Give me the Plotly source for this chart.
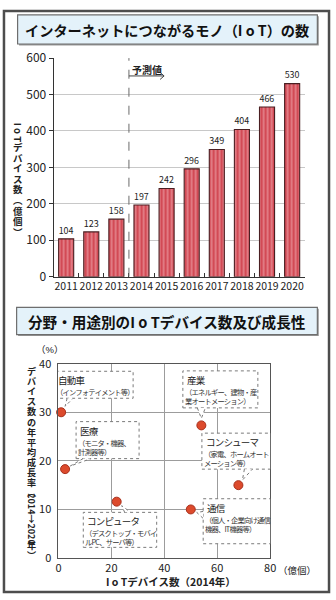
import plotly.graph_objects as go

# ---- data -------------------------------------------------------------
years = ["2011", "2012", "2013", "2014", "2015", "2016", "2017", "2018", "2019", "2020"]
devices = [104, 123, 158, 197, 242, 296, 349, 404, 466, 530]   # 億個
forecast_label = "予測値"

sectors = ["自動車", "医療", "産業", "コンシューマ", "コンピュータ", "通信"]
sector_notes = [
    "（インフォテイメント等）",
    "（モニタ・機器、<br>計測器等）",
    "（エネルギー、建物・産<br>業オートメーション）",
    "（家電、ホームオート<br>メーション等）",
    "（デスクトップ・モバイ<br>ルPC、サーバ等）",
    "（個人・企業向け通信<br>機器、IT機器等）",
]
sector_devices_2014 = [1, 2.5, 54, 68, 22, 50]      # 億個
sector_growth = [30, 18.3, 27.3, 15, 11.6, 10]      # %

# ---- page geometry ----------------------------------------------------
W, H = 336, 600
FONT = "Noto Sans CJK JP, Noto Sans, sans-serif"
# tight-metric primary family for stacked text (CJK glyphs fall back to Noto)
COLUMN_FONT = "Liberation Serif, Noto Sans CJK JP, sans-serif"


def px(x):
    return x / W


def py(y):
    return 1 - y / H


# callout geometry (pixels relative to each dot, screen y downward)
# box = (left, top, right, bottom), tail = (base1, tip, base2)
callouts = [
    dict(box=(-7, -41, 72, -14), tail=((6, -14), (4, -6), (12, -14))),
    dict(box=(11, -47.5, 74, -10.5), tail=((18, -10.5), (5, -3), (26, -10.5))),
    dict(box=(-18.5, -54.5, 56.5, -17.5), tail=((-4, -17.5), (0, -7), (4, -17.5))),
    dict(box=(-36.5, -52, 32.5, -16), tail=((6, -16), (4, -5), (14, -16))),
    dict(box=(-33.4, 10.7, 40, 45.7), tail=((8, 10.7), (5, 4), (14, 10.7))),
    dict(box=(12.4, -10.7, 81.4, 34.3), tail=((12.4, 2), (6, 3), (12.4, 9))),
]

fig = go.Figure()

# ---- chart 1: bar chart -------------------------------------------------
fig.add_trace(go.Bar(
    x=years, y=devices, xaxis="x", yaxis="y",
    width=0.6,
    marker=dict(
        color="#d24a55",
        line=dict(color="#4a1f22", width=1.1),
        pattern=dict(shape="|", fgcolor="#f4b4b9", bgcolor="#d24a55",
                     size=4, solidity=0.45),
    ),
    text=[str(v) for v in devices], textposition="outside",
    textfont=dict(size=12, color="#222", family=FONT),
    cliponaxis=False, showlegend=False, hoverinfo="skip",
))

# ---- chart 2: scatter ---------------------------------------------------
fig.add_trace(go.Scatter(
    x=sector_devices_2014, y=sector_growth, xaxis="x2", yaxis="y2",
    mode="markers",
    marker=dict(size=9, color="#dc4a2c", line=dict(color="#a8301c", width=1)),
    showlegend=False, hoverinfo="skip", cliponaxis=False,
))

shapes = []
annotations = []

# outer frame
shapes.append(dict(type="rect", xref="paper", yref="paper",
                   x0=px(1), x1=px(W - 1), y0=py(H - 1), y1=py(1),
                   line=dict(color="#4d4d4d", width=2.5), layer="above"))

# title boxes
for (x0, y0, x1, y1), title, size in [
    ((15, 5, 323, 35), "インターネットにつながるモノ（I o T）の数", 14.2),
    ((14, 306, 323, 334), "分野・用途別のI o Tデバイス数及び成長性", 14.6),
]:
    shapes.append(dict(type="rect", xref="paper", yref="paper",
                       x0=px(x0 + 1.5), x1=px(x1 + 1.5), y0=py(y1 + 1.5), y1=py(y0 + 1.5),
                       line=dict(width=0), fillcolor="#9a9a9a", layer="below"))
    shapes.append(dict(type="rect", xref="paper", yref="paper",
                       x0=px(x0), x1=px(x1), y0=py(y1), y1=py(y0),
                       line=dict(color="#6e6e6e", width=1.2), fillcolor="#e4f2fa",
                       layer="below"))
    annotations.append(dict(text="<b>%s</b>" % title, xref="paper", yref="paper",
                            x=px((x0 + x1) / 2), y=py((y0 + y1) / 2 + 0.5),
                            showarrow=False, xanchor="center", yanchor="middle",
                            font=dict(size=size, color="#111", family=FONT)))

# forecast divider between 2013 and 2014
split = years.index("2014") - 0.5
shapes.append(dict(type="line", xref="x", yref="y", x0=split, x1=split, y0=0, y1=600,
                   line=dict(color="#6a6a6a", width=1, dash="dash"), layer="above"))
shapes.append(dict(type="line", xref="x", yref="y", x0=split, x1=split + 1.4, y0=551, y1=551,
                   line=dict(color="#444", width=1), layer="above"))
shapes.append(dict(type="path", xref="x", yref="y", xsizemode="pixel", ysizemode="pixel",
                   xanchor=split + 1.4, yanchor=551,
                   path="M -4,3.5 L 0,0 L -4,-3.5",
                   line=dict(color="#444", width=1), layer="above"))
annotations.append(dict(text="<b>%s</b>" % forecast_label, xref="x", yref="y",
                        x=split, y=570, xanchor="left", yanchor="middle", xshift=1,
                        showarrow=False, font=dict(size=10, color="#222", family=FONT)))

# callouts for the scatter points
for name, note, xv, yv, c in zip(sectors, sector_notes, sector_devices_2014,
                                 sector_growth, callouts):
    l, t, r, b = c["box"]
    shapes.append(dict(type="rect", xref="x2", yref="y2", xsizemode="pixel",
                       ysizemode="pixel", xanchor=xv, yanchor=yv,
                       x0=l, x1=r, y0=-b, y1=-t,
                       line=dict(color="#7a7a7a", width=1, dash="dot"),
                       fillcolor="white", layer="above"))
    (bx1, by1), (tx, ty), (bx2, by2) = c["tail"]
    shapes.append(dict(type="path", xref="x2", yref="y2", xsizemode="pixel",
                       ysizemode="pixel", xanchor=xv, yanchor=yv,
                       path="M %g,%g L %g,%g L %g,%g" % (bx1, -by1, tx, -ty, bx2, -by2),
                       line=dict(color="#7a7a7a", width=1, dash="dot"),
                       fillcolor="white", layer="above"))
    annotations.append(dict(
        text="<span style='letter-spacing:-0.8px'>%s</span>" % name,
        xref="x2", yref="y2", x=xv, y=yv,
        xanchor="left", yanchor="top", xshift=l + 3, yshift=-(t + 1),
        showarrow=False, align="left", borderpad=0,
        font=dict(size=9.5, color="#222", family=FONT)))
    note_html = "<br>".join("<span style='letter-spacing:-0.8px'>%s</span>" % ln
                            for ln in note.split("<br>"))
    annotations.append(dict(
        text=note_html, xref="x2", yref="y2", x=xv, y=yv,
        xanchor="left", yanchor="top", xshift=l + 1, yshift=-(t + 15),
        showarrow=False, align="left", borderpad=0,
        font=dict(size=7.3, color="#333", family=FONT)))


def upright_stack(chars, x_px, y_top, step, size):
    """Upright CJK column: one annotation, line pitch set by the outer font size."""
    body = "<br>".join("<span style='font-size:%gpx'><b>%s</b></span>" % (size, ch)
                       for ch in chars)
    annotations.append(dict(text=body, xref="paper", yref="paper",
                            x=px(x_px), y=py(y_top + len(chars) * step / 2),
                            xanchor="center", yanchor="middle", showarrow=False,
                            borderpad=0, align="center",
                            font=dict(size=step / 1.3, color="#222", family=COLUMN_FONT)))
    return y_top + len(chars) * step


def rotated_run(text, x_px, y_top, length, size):
    annotations.append(dict(text="<b>%s</b>" % text, xref="paper", yref="paper",
                            x=px(x_px), y=py(y_top + length / 2), textangle=90,
                            xanchor="center", yanchor="middle", showarrow=False,
                            borderpad=0,
                            font=dict(size=size, color="#222", family=FONT)))
    return y_top + length


# y-axis title of the bar chart
y = rotated_run("I o T", 15, 116, 20, 9.5)
upright_stack("デバイス数︵億個︶", 15, y + 1.5, 10.6, 9.5)

# y-axis title of the scatter chart
y = upright_stack("デバイス数の年平均成長率︵", 29, 369, 10.1, 9.1)
y = rotated_run("2014→2020", 29, y + 1.5, 43, 9)
upright_stack("年︶", 29, y + 1.5, 10.1, 9.1)

# small unit labels on chart 2
annotations.append(dict(text="（%）", xref="paper", yref="paper", x=px(48), y=py(349.5),
                        showarrow=False, xanchor="center", yanchor="middle", borderpad=0,
                        font=dict(size=9.5, color="#222",
                                  family="Liberation Sans, Noto Sans CJK JP, sans-serif")))
annotations.append(dict(text="（億個）", xref="paper", yref="paper", x=px(280), y=py(576),
                        showarrow=False, xanchor="left", yanchor="middle",
                        font=dict(size=9.5, color="#222", family=FONT)))
annotations.append(dict(text="<b>I o Tデバイス数（2014年）</b>", xref="paper", yref="paper",
                        x=px(173), y=py(588), showarrow=False, xanchor="center",
                        yanchor="middle", font=dict(size=10.5, color="#222", family=FONT)))

fig.update_layout(
    width=W, height=H, autosize=False,
    margin=dict(l=0, r=0, t=0, b=0),
    paper_bgcolor="white", plot_bgcolor="white",
    font=dict(family=FONT, color="#222"),
    shapes=shapes, annotations=annotations,
    xaxis=dict(domain=[px(52), px(310)], type="category", showgrid=False,
               showline=True, linecolor="#333", linewidth=1,
               ticks="inside", tickson="boundaries", ticklen=4, tickcolor="#333",
               tickangle=0,
               tickfont=dict(size=10.5, color="#222", family=FONT), anchor="y",
               fixedrange=True),
    yaxis=dict(domain=[py(274.5), py(49.5)], range=[0, 600], dtick=100,
               showgrid=True, gridcolor="#c8c8c8", gridwidth=1,
               showline=True, linecolor="#333", linewidth=1, zeroline=False,
               ticks="outside", ticklen=4, tickcolor="#333",
               tickfont=dict(size=12, color="#222", family=FONT), anchor="x",
               fixedrange=True),
    xaxis2=dict(domain=[px(57), px(274.5)], range=[0, 80], dtick=20,
                showgrid=True, gridcolor="#9c9c9c", gridwidth=1,
                showline=True, mirror=True, linecolor="#555", linewidth=1,
                zeroline=False, ticks="",
                tickfont=dict(size=11, color="#222", family=FONT), anchor="y2",
                fixedrange=True),
    yaxis2=dict(domain=[py(564), py(364)], range=[0, 40], dtick=10,
                showgrid=True, gridcolor="#9c9c9c", gridwidth=1,
                showline=True, mirror=True, linecolor="#555", linewidth=1,
                zeroline=False, ticks="", ticklabelstandoff=4,
                tickfont=dict(size=11, color="#222", family=FONT), anchor="x2",
                fixedrange=True),
)

fig.write_html("out.html", config={"displayModeBar": False})
